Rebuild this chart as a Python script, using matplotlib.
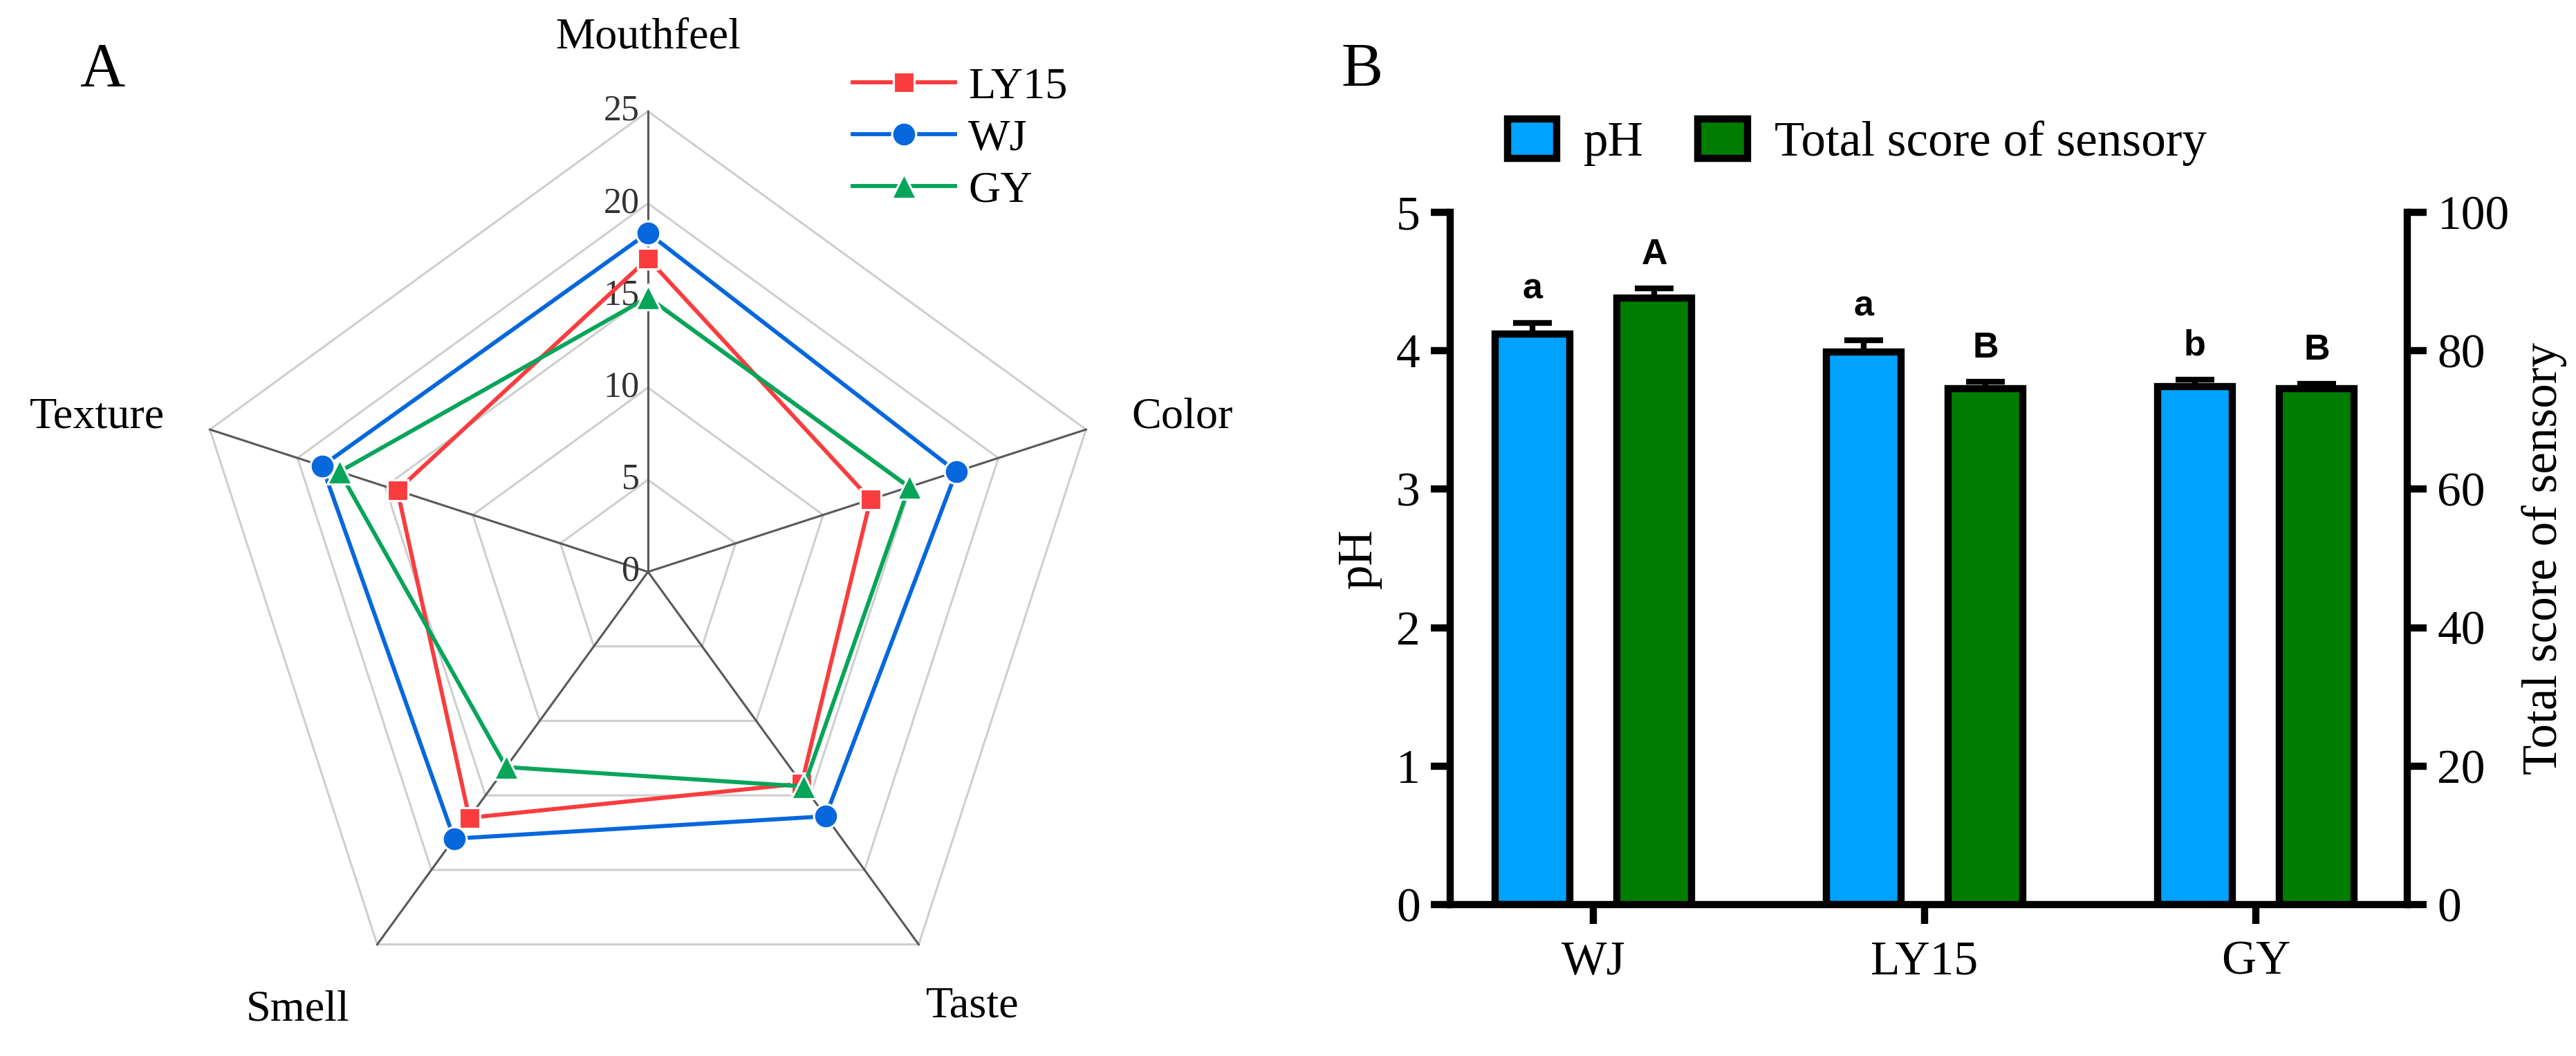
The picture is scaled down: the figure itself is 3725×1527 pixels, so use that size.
import numpy as np
import matplotlib.pyplot as plt

plt.rcParams['font.family'] = ['Liberation Serif', 'DejaVu Serif']

# panel A: sensory radar
attributes = ["Mouthfeel", "Color", "Taste", "Smell", "Texture"]
ly15_scores = [17.0, 12.7, 14.2, 16.5, 14.3]
wj_scores = [18.4, 17.6, 16.4, 17.9, 18.6]
gy_scores = [14.9, 14.9, 14.4, 13.1, 17.6]
radar_ticks = [0, 5, 10, 15, 20, 25]

# panel B: pH and total sensory score
samples = ["WJ", "LY15", "GY"]
ph_mean = [4.12, 3.99, 3.74]
ph_err = [0.08, 0.085, 0.05]
total_mean = [87.6, 74.5, 74.5]
total_err = [1.4, 1.0, 0.7]
ph_letters = ["a", "a", "b"]
total_letters = ["A", "B", "B"]

fig = plt.figure(figsize=(14.9, 6.108), dpi=250)

# ---------------- radar ----------------
ax = fig.add_axes([0, 0, 0.5, 1])
ax.set_xlim(-35.17, 34.74)
ax.set_ylim(-26.28, 31.04)
ax.axis('off')

theta = np.arange(len(attributes)) * 2 * np.pi / len(attributes)
rmax = radar_ticks[-1]

def to_xy(vals):
    vals = np.asarray(vals, dtype=float)
    t = np.append(theta, theta[0])
    v = np.append(vals, vals[0])
    return v * np.sin(t), v * np.cos(t)

for lev in radar_ticks[1:]:
    gx, gy = to_xy([lev] * len(attributes))
    ax.plot(gx, gy, color='#cfcfcf', lw=0.9, zorder=1)
for t in theta:
    ax.plot([0, rmax * np.sin(t)], [0, rmax * np.cos(t)], color='#5a5a5a', lw=0.9, zorder=2)
for lev in radar_ticks:
    ax.text(-0.45, lev, str(lev), ha='right', va='center', fontsize=15, color='#333333')

series = [("LY15", ly15_scores, '#f93d3f', 's', 8.5),
          ("WJ", wj_scores, '#0767dc', 'o', 10),
          ("GY", gy_scores, '#06a55a', '^', 10.5)]
for name, vals, col, mk, ms in series:
    sx, sy = to_xy(vals)
    ax.plot(sx, sy, color=col, lw=1.7, marker=mk, ms=ms, mfc=col,
            mec='white', mew=0.9, label=name, zorder=3)

label_pos = {"Mouthfeel": (0, 29.0), "Color": (29.0, 8.4), "Taste": (17.6, -23.6),
             "Smell": (-19.0, -23.8), "Texture": (-29.9, 8.4)}
for name in attributes:
    lx, ly = label_pos[name]
    ax.text(lx, ly, name, ha='center', va='center', fontsize=18.5)

fig.text(0.0397, 0.933, "A", ha='center', va='center', fontsize=26)
fig.legend(*ax.get_legend_handles_labels(), loc='upper left',
           bbox_to_anchor=(0.331, 0.937), frameon=False, fontsize=18.5,
           handlelength=2.3, handletextpad=0.3, labelspacing=0.25,
           borderpad=0, borderaxespad=0)

# ---------------- bars ----------------
axb = fig.add_axes([0.5630, 0.1434, 0.3715, 0.6556])
axr = axb.twinx()
x = np.arange(len(samples))
off = 0.184
w = 0.225
lw = 3.0

axb.bar(x - off, ph_mean, w, color='#00a2ff', edgecolor='black', lw=lw, label='pH', zorder=2)
axb.errorbar(x - off, ph_mean, yerr=[np.zeros(len(x)), ph_err], fmt='none',
             ecolor='black', elinewidth=2.4, capsize=8, capthick=2.4, zorder=1)
axr.bar(x + off, total_mean, w, color='#007d00', edgecolor='black', lw=lw,
        label='Total score of sensory', zorder=2)
axr.errorbar(x + off, total_mean, yerr=[np.zeros(len(x)), total_err], fmt='none',
             ecolor='black', elinewidth=2.4, capsize=8, capthick=2.4, zorder=1)

for xi, m, e, s in zip(x - off, ph_mean, ph_err, ph_letters):
    axb.annotate(s, (xi, m + e), xytext=(0, 7), textcoords='offset points', ha='center',
                 va='bottom', fontsize=15, fontweight='bold', family='Liberation Sans')
for xi, m, e, s in zip(x + off, total_mean, total_err, total_letters):
    axr.annotate(s, (xi, m + e), xytext=(0, 7), textcoords='offset points', ha='center',
                 va='bottom', fontsize=15, fontweight='bold', family='Liberation Sans')

axb.set_xlim(-0.432, 2.457)
axb.set_ylim(0, 5)
axr.set_ylim(0, 100)
axb.set_yticks(range(0, 6))
axr.set_yticks(range(0, 101, 20))
axb.set_xticks(x)
axb.set_xticklabels(samples)

for a in (axb, axr):
    for sp in a.spines.values():
        sp.set_linewidth(lw)
    a.spines['top'].set_visible(False)
    a.tick_params(width=lw, length=8, labelsize=20, pad=4.5)
axb.spines['right'].set_visible(False)
axr.spines['left'].set_visible(False)
axr.spines['bottom'].set_visible(False)
axb.tick_params(axis='x', pad=7)

axb.set_ylabel('pH', fontsize=20.5, labelpad=6)
axr.set_ylabel('Total score of sensory', fontsize=20.5, rotation=90, labelpad=5)

fig.text(0.5286, 0.933, "B", ha='center', va='center', fontsize=26)
hb, lb = axb.get_legend_handles_labels()
hr, lr = axr.get_legend_handles_labels()
fig.legend(hb + hr, lb + lr, loc='center left', bbox_to_anchor=(0.5852, 0.865),
           ncol=2, frameon=False, fontsize=20.5, handlelength=1.0, handleheight=0.85,
           handletextpad=0.55, columnspacing=1.1, borderpad=0, borderaxespad=0)

fig.savefig("out.png", dpi=250)
